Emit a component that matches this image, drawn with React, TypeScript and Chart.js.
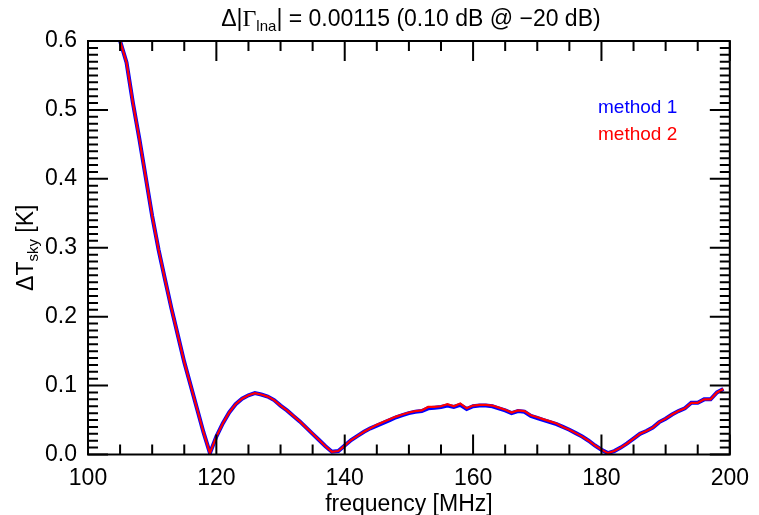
import React, { useEffect, useRef } from "react";
import { Chart, registerables } from "chart.js";

Chart.register(...registerables);

const frequencies = [
  105, 106, 107, 108, 109, 110, 111, 112, 113, 114, 115, 116, 117, 118, 119,
  120, 121, 122, 123, 124, 125, 126, 127, 128, 129, 130, 131, 132, 133, 134,
  135, 136, 137, 138, 139, 140, 141, 142, 143, 144, 145, 146, 147, 148, 149,
  150, 151, 152, 153, 154, 155, 156, 157, 158, 159, 160, 161, 162, 163, 164,
  165, 166, 167, 168, 169, 170, 171, 172, 173, 174, 175, 176, 177, 178, 179,
  180, 181, 182, 183, 184, 185, 186, 187, 188, 189, 190, 191, 192, 193, 194,
  195, 196, 197, 198, 199,
];

const method1 = [
  0.600, 0.569, 0.510, 0.458, 0.402, 0.346, 0.297, 0.254, 0.212, 0.173, 0.134, 0.100, 0.066, 0.032, 0.002,
  0.026, 0.045, 0.061, 0.073, 0.081, 0.086, 0.089, 0.087, 0.084, 0.079, 0.071, 0.064, 0.056, 0.048, 0.039,
  0.030, 0.021, 0.012, 0.004, 0.005, 0.013, 0.021, 0.027, 0.033, 0.038, 0.042, 0.046, 0.050, 0.054, 0.057,
  0.060, 0.062, 0.063, 0.067, 0.068, 0.069, 0.071, 0.069, 0.072, 0.066, 0.070, 0.071, 0.071, 0.070, 0.067,
  0.064, 0.060, 0.063, 0.062, 0.056, 0.053, 0.050, 0.047, 0.044, 0.040, 0.036, 0.031, 0.026, 0.020, 0.013,
  0.007, 0.002, 0.005, 0.010, 0.016, 0.023, 0.030, 0.034, 0.039, 0.047, 0.052, 0.058, 0.063, 0.067, 0.075,
  0.075, 0.080, 0.080, 0.090, 0.095,
];

const method2 = [
  0.600, 0.569, 0.510, 0.458, 0.402, 0.346, 0.297, 0.254, 0.212, 0.173, 0.134, 0.100, 0.066, 0.032, 0.002,
  0.026, 0.045, 0.061, 0.073, 0.081, 0.086, 0.089, 0.087, 0.084, 0.079, 0.071, 0.064, 0.056, 0.048, 0.039,
  0.030, 0.021, 0.012, 0.004, 0.005, 0.013, 0.021, 0.027, 0.033, 0.038, 0.043, 0.047, 0.051, 0.055, 0.058,
  0.061, 0.063, 0.064, 0.069, 0.069, 0.070, 0.073, 0.070, 0.074, 0.067, 0.071, 0.072, 0.072, 0.071, 0.068,
  0.065, 0.061, 0.064, 0.063, 0.057, 0.054, 0.051, 0.048, 0.045, 0.040, 0.036, 0.031, 0.026, 0.020, 0.013,
  0.007, 0.002, 0.005, 0.010, 0.016, 0.023, 0.030, 0.034, 0.039, 0.047, 0.052, 0.058, 0.063, 0.067, 0.075,
  0.075, 0.080, 0.080, 0.090, 0.095,
];

const seriesLabels = ["method 1", "method 2"];
const seriesColors = ["#0000ff", "#ff0000"];
const xTickValues = [100, 120, 140, 160, 180, 200];
const yTickValues = [0.0, 0.1, 0.2, 0.3, 0.4, 0.5, 0.6];
const xAxisTitle = "frequency [MHz]";
const titleParts = ["\u0394|", "\u0393", "lna", "| = 0.00115 (0.10 dB @ \u221220 dB)"];
const yTitleParts = ["\u0394T", "sky", " [K]"];

const SANS = "'Liberation Sans', Arial, Helvetica, sans-serif";
const SERIF = "'Liberation Serif', 'Times New Roman', serif";

type Seg = { text: string; font: string; dy: number };

function drawSegments(ctx: CanvasRenderingContext2D, segs: Seg[], cx: number) {
  let total = 0;
  const widths = segs.map((s) => {
    ctx.font = s.font;
    const w = ctx.measureText(s.text).width;
    total += w;
    return w;
  });
  let x = cx - total / 2;
  segs.forEach((s, i) => {
    ctx.font = s.font;
    ctx.fillText(s.text, x, s.dy);
    x += widths[i];
  });
}

const framePlugin = {
  id: "idlFrame",
  afterDatasetsDraw(chart: any) {
    const { ctx, chartArea } = chart;
    const xs = chart.scales.x;
    const ys = chart.scales.y;
    const { left, right, top, bottom } = chartArea;
    ctx.save();
    ctx.strokeStyle = "#000";
    ctx.lineWidth = 2;
    ctx.lineCap = "butt";
    ctx.beginPath();
    for (let v = xs.min; v <= xs.max + 1e-9; v += 5) {
      const px = xs.getPixelForValue(v);
      const major = Math.abs(v % 20) < 1e-6;
      const len = major ? 20 : 10;
      ctx.moveTo(px, bottom);
      ctx.lineTo(px, bottom - len);
      ctx.moveTo(px, top);
      ctx.lineTo(px, top + len);
    }
    for (let k = 0; k <= 60; k++) {
      const v = k / 100;
      const py = ys.getPixelForValue(v);
      const len = k % 10 === 0 ? 20 : 10;
      ctx.moveTo(left, py);
      ctx.lineTo(left + len, py);
      ctx.moveTo(right, py);
      ctx.lineTo(right - len, py);
    }
    ctx.stroke();
    ctx.strokeRect(left, top, right - left, bottom - top);
    ctx.restore();
  },
  afterDraw(chart: any) {
    const { ctx, chartArea } = chart;
    ctx.save();
    ctx.fillStyle = "#000";
    ctx.textBaseline = "alphabetic";
    ctx.textAlign = "left";
    // Title
    ctx.save();
    ctx.translate(0, 26);
    drawSegments(
      ctx,
      [
        { text: titleParts[0], font: `23px ${SANS}`, dy: 0 },
        { text: titleParts[1], font: `24px ${SERIF}`, dy: 0 },
        { text: titleParts[2], font: `15px ${SANS}`, dy: 5 },
        { text: titleParts[3], font: `23px ${SANS}`, dy: 0 },
      ],
      (chartArea.left + chartArea.right) / 2 + 2
    );
    ctx.restore();
    // Y axis title
    ctx.save();
    ctx.translate(33, (chartArea.top + chartArea.bottom) / 2);
    ctx.rotate(-Math.PI / 2);
    drawSegments(
      ctx,
      [
        { text: yTitleParts[0], font: `23px ${SANS}`, dy: 0 },
        { text: yTitleParts[1], font: `15px ${SANS}`, dy: 5 },
        { text: yTitleParts[2], font: `23px ${SANS}`, dy: 0 },
      ],
      0
    );
    ctx.restore();
    // Legend (text only)
    ctx.font = `19px ${SANS}`;
    chart.data.datasets.forEach((ds: any, i: number) => {
      ctx.fillStyle = ds.borderColor;
      ctx.fillText(ds.label, 598, 113 + i * 27);
    });
    ctx.restore();
  },
};

export default function App() {
  const canvasRef = useRef<HTMLCanvasElement | null>(null);

  useEffect(() => {
    if (!canvasRef.current) return;
    const chart = new Chart(canvasRef.current, {
      type: "line",
      data: {
        datasets: [
          {
            label: seriesLabels[0],
            data: frequencies.map((f, i) => ({ x: f, y: method1[i] })),
            borderColor: seriesColors[0],
            borderWidth: 4,
            pointRadius: 0,
            tension: 0,
            fill: false,
            order: 2,
          },
          {
            label: seriesLabels[1],
            data: frequencies.map((f, i) => ({ x: f, y: method2[i] })),
            borderColor: seriesColors[1],
            borderWidth: 2.2,
            pointRadius: 0,
            tension: 0,
            fill: false,
            order: 1,
          },
        ],
      },
      options: {
        responsive: false,
        animation: false,
        events: [],
        layout: { padding: { top: 41, right: 21.5, bottom: 0, left: 0 } },
        plugins: {
          legend: { display: false },
          title: { display: false },
          tooltip: { enabled: false },
        },
        scales: {
          x: {
            type: "linear",
            min: 100,
            max: 200,
            afterFit: (s: any) => {
              s.height = 60.5;
            },
            afterBuildTicks: (s: any) => {
              s.ticks = xTickValues.map((v) => ({ value: v }));
            },
            grid: { display: false, drawTicks: false },
            border: { display: false },
            ticks: {
              color: "#000",
              font: { family: SANS, size: 23 },
              padding: 10,
              maxRotation: 0,
              autoSkip: false,
              callback: (v: any) => String(v),
            },
            title: {
              display: true,
              text: xAxisTitle,
              color: "#000",
              font: { family: SANS, size: 23 },
              padding: { top: 0, bottom: -3 },
            },
          },
          y: {
            type: "linear",
            min: 0,
            max: 0.6,
            afterFit: (s: any) => {
              s.width = 88;
            },
            afterBuildTicks: (s: any) => {
              s.ticks = yTickValues.map((v) => ({ value: v }));
            },
            grid: { display: false, drawTicks: false },
            border: { display: false },
            ticks: {
              color: "#000",
              font: { family: SANS, size: 23 },
              padding: 11,
              autoSkip: false,
              callback: (v: any) => Number(v).toFixed(1),
            },
          },
        },
      },
      plugins: [framePlugin],
    });
    return () => chart.destroy();
  }, []);

  return (
    <div style={{ position: "fixed", left: 0, top: 0, width: 759, height: 515, background: "#fff" }}>
      <canvas ref={canvasRef} width={759} height={515} style={{ display: "block" }} />
    </div>
  );
}
